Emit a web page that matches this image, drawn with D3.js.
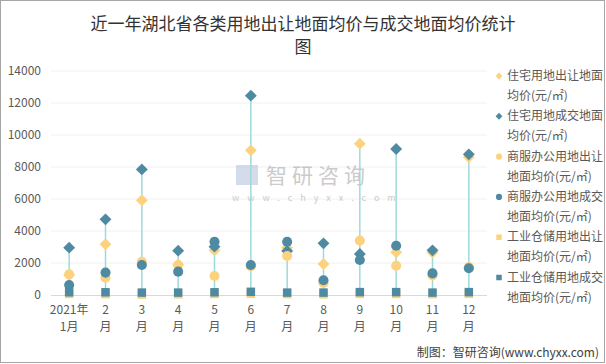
<!DOCTYPE html>
<html><head><meta charset="utf-8">
<script src="https://cdn.jsdelivr.net/npm/d3@7/dist/d3.min.js"></script>
<style>body{margin:0;background:#fff}svg{display:block}</style>
</head><body><svg id="c" width="606" height="364"></svg>
<script>
const months = ["1","2","3","4","5","6","7","8","9","10","11","12"];
const tickTop = ["2021年","2","3","4","5","6","7","8","9","10","11","12"];
const tickBottom = ["1月","月","月","月","月","月","月","月","月","月","月","月"];
const resSell = [1250,3170,5920,1900,2790,9040,2960,1940,9460,2670,2650,8620];
const resDeal = [2960,4730,7850,2770,3020,12460,2750,3230,2560,9125,2790,8790];
const comSell = [1290,1085,2080,1875,1190,1800,2440,750,3400,1830,1220,1750];
const comDeal = [620,1400,1875,1460,3330,1875,3330,920,2190,3080,1350,1670];
const indSell = [60,50,20,40,60,80,50,40,70,60,50,70];
const indDeal = [170,170,150,150,170,200,150,150,180,180,150,180];
const yTicks = [0,2000,4000,6000,8000,10000,12000,14000];
const legendLines = [["住宅用地出让地面","均价(元/㎡)"],["住宅用地成交地面","均价(元/㎡)"],["商服办公用地出让","地面均价(元/㎡)"],["商服办公用地成交","地面均价(元/㎡)"],["工业仓储用地出让","地面均价(元/㎡)"],["工业仓储用地成交","地面均价(元/㎡)"]];

const YEL="#FDD27E", BLU="#4F8AA3";
const series = [
  {v:resSell,c:YEL,s:"diamond"},
  {v:resDeal,c:BLU,s:"diamond"},
  {v:comSell,c:YEL,s:"circle"},
  {v:comDeal,c:BLU,s:"circle"},
  {v:indSell,c:YEL,s:"square"},
  {v:indDeal,c:BLU,s:"square"}
];
const svg=d3.select("#c");
const font="'Microsoft YaHei','Noto Sans CJK SC',sans-serif";
svg.append("rect").attr("x",0.5).attr("y",0.5).attr("width",604).attr("height",362).attr("fill","#fff").attr("stroke","#a6a6a6");

svg.append("text").attr("x",303).attr("y",30).attr("text-anchor","middle").attr("font-family","'Noto Sans CJK SC',serif").attr("font-size",17).attr("fill","#333").text("近一年湖北省各类用地出让地面均价与成交地面均价统计");
svg.append("text").attr("x",303).attr("y",53).attr("text-anchor","middle").attr("font-family","'Noto Sans CJK SC',serif").attr("font-size",17).attr("fill","#333").text("图");

const x=d3.scaleBand().domain(months).range([51,487]);
const y=d3.scaleLinear().domain([0,14000]).range([295,71]);

// grid
svg.append("g").selectAll("line").data(yTicks.slice(1)).join("line")
 .attr("x1",51).attr("x2",487).attr("y1",d=>y(d)).attr("y2",d=>y(d)).attr("stroke","#f0f0f0");
// y axis
const ya=svg.append("g").attr("transform","translate(51,0)").call(d3.axisLeft(y).tickValues(yTicks).tickSize(0).tickPadding(10).tickFormat(d3.format("d")));
ya.select(".domain").remove();
ya.selectAll("text").attr("font-family",font).attr("font-size",12).attr("fill","#595959");

// watermark
const wm=svg.append("g").attr("opacity",0.5);
wm.append("rect").attr("x",236).attr("y",165).attr("width",22).attr("height",20).attr("fill","#aab8d8");
wm.append("text").attr("x",266).attr("y",183).attr("font-family",font).attr("font-size",21).attr("fill","#999").attr("letter-spacing",5).text("智研咨询");
wm.append("text").attr("x",232).attr("y",201).attr("font-family",font).attr("font-size",9).attr("fill","#999").attr("letter-spacing",8).text("www.chyxx.com");

// x axis
svg.append("line").attr("x1",51).attr("x2",487).attr("y1",295.5).attr("y2",295.5).attr("stroke","#d9d9d9");
months.forEach((m,i)=>{
  const cx=x(m)+x.bandwidth()/2;
  svg.append("text").attr("x",cx).attr("y",314).attr("text-anchor","middle").attr("font-family",font).attr("font-size",12).attr("fill","#595959").text(tickTop[i]);
  svg.append("text").attr("x",cx).attr("y",331).attr("text-anchor","middle").attr("font-family",font).attr("font-size",12).attr("fill","#595959").text(tickBottom[i]);
});

// high-low lines
svg.append("g").selectAll("line").data(months).join("line")
 .attr("x1",d=>x(d)+x.bandwidth()/2).attr("x2",d=>x(d)+x.bandwidth()/2)
 .attr("y1",(d,i)=>y(d3.max(series,s=>s.v[i]))).attr("y2",(d,i)=>y(d3.min(series,s=>s.v[i])))
 .attr("stroke","#9ed9d9").attr("stroke-width",1.5);

function sym(s,size){
  const t = s==="diamond"?d3.symbolDiamond2 : s==="circle"?d3.symbolCircle : d3.symbolSquare;
  return d3.symbol().type(t).size(size)();
}
const sizes={diamond:90,circle:80,square:72};
series.forEach(s=>{
  svg.append("g").selectAll("path").data(s.v).join("path")
   .attr("transform",(d,i)=>`translate(${x(months[i])+x.bandwidth()/2},${y(d)})`)
   .attr("d",sym(s.s,sizes[s.s])).attr("fill",s.c);
});

// legend
const lg=svg.append("g");
series.forEach((s,i)=>{
  const ly=80+i*40.3;
  const ls={diamond:30,circle:30,square:30}[s.s];
  lg.append("path").attr("transform",`translate(499,${ly-4})`).attr("d",sym(s.s,ls)).attr("fill",s.c);
  legendLines[i].forEach((t,j)=>{
    lg.append("text").attr("x",507).attr("y",ly+j*20).attr("font-family",font).attr("font-size",12).attr("fill","#595959").text(t);
  });
});

svg.append("text").attr("x",599).attr("y",357).attr("text-anchor","end").attr("font-family",font).attr("font-size",12).attr("fill","#404040").text("制图：智研咨询(www.chyxx.com)");
</script></body></html>
